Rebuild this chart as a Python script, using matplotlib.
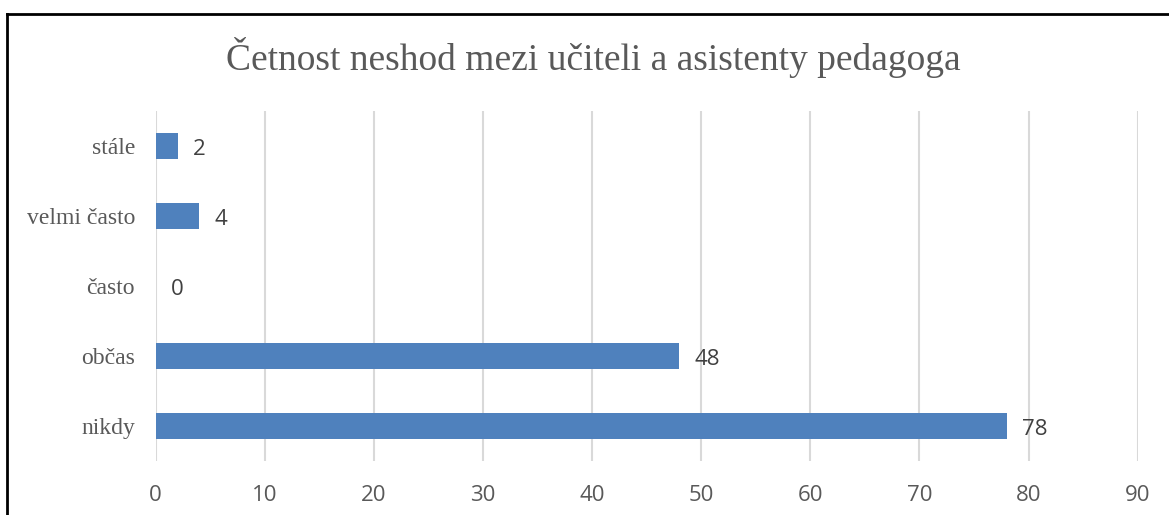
import matplotlib.pyplot as plt
from matplotlib.lines import Line2D

categories = ["nikdy", "občas", "často", "velmi často", "stále"]
values = [78, 48, 0, 4, 2]
xticks = [0, 10, 20, 30, 40, 50, 60, 70, 80, 90]

fig = plt.figure(figsize=(11.69, 5.15), dpi=100)
ax = fig.add_axes([0.1332, 0.1049, 0.84, 0.6796])

ax.barh(range(len(categories)), values, height=0.36, color="#4f81bd", zorder=3)
for i, v in enumerate(values):
    ax.annotate(str(v), (v, i), xytext=(11, -2.5), textcoords="offset points",
                va="center", ha="left", fontsize=16, family="Open Sans",
                color="#404040")

ax.set_xlim(0, 90)
ax.set_ylim(-0.5, len(categories) - 0.5)
ax.set_xticks(xticks)
ax.set_yticks(range(len(categories)))
ax.set_yticklabels(categories, family="Liberation Serif", fontsize=17, color="#595959")
for lab in ax.get_xticklabels():
    lab.set_family("Open Sans")
    lab.set_fontsize(16)
    lab.set_color("#595959")
ax.tick_params(axis="both", length=0)
ax.tick_params(axis="y", pad=15)
ax.tick_params(axis="x", pad=17)
ax.grid(axis="x", color="#d9d9d9", linewidth=1.5, zorder=0)
for s in ax.spines.values():
    s.set_visible(False)

fig.text(593 / 1169, 1 - 58 / 515, "Četnost neshod mezi učiteli a asistenty pedagoga",
         ha="center", va="center", family="Liberation Serif", fontsize=27, color="#595959")

# outer frame (left and top only)
fig.add_artist(Line2D([7 / 1169, 7 / 1169], [0, 1 - 14 / 515], color="black", linewidth=2,
                      transform=fig.transFigure))
fig.add_artist(Line2D([7 / 1169, 1], [1 - 14 / 515, 1 - 14 / 515], color="black", linewidth=2,
                      transform=fig.transFigure))

fig.savefig("out.png", dpi=100)
